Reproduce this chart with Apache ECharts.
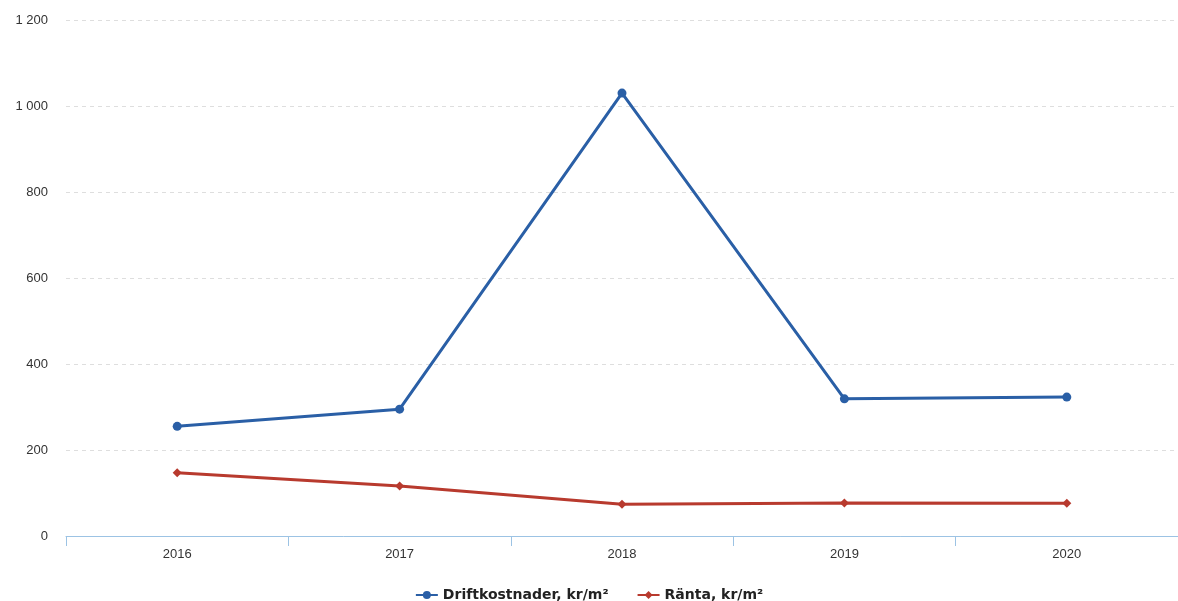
<!DOCTYPE html>
<html><head><meta charset="utf-8">
<script src="https://cdn.jsdelivr.net/npm/echarts@6/dist/echarts.min.js"></script>
<style>html,body{margin:0;padding:0;background:#fff}#c{width:1178px;height:601px}</style>
</head><body><div id="c"></div>
<script>
const categories = ['2016','2017','2018','2019','2020'];
const driftkostnader = [255, 295, 1030, 319, 323];
const ranta = [147, 116, 74, 77, 76];
const yTicks = [0, 200, 400, 600, 800, 1000, 1200];

const chart = echarts.init(document.getElementById('c'));
chart.setOption({
  animation: false,
  backgroundColor: '#fff',
  grid: {left: 66, right: 0, top: 20, bottom: 65, containLabel: false},
  legend: {
    top: 583, left: 'center', itemGap: 28, itemWidth: 22, itemHeight: 10,
    textStyle: {fontFamily: 'DejaVu Sans', fontWeight: 'bold', fontSize: 14, color: '#222'},
    data: ['Driftkostnader, kr/m²', 'Ränta, kr/m²']
  },
  xAxis: {
    type: 'category', data: categories, boundaryGap: true,
    axisLine: {lineStyle: {color: '#9cc3e4', width: 1}},
    axisTick: {show: true, length: 10, lineStyle: {color: '#9cc3e4'}},
    axisLabel: {fontFamily: 'Liberation Sans', fontSize: 13, color: '#333', margin: 12}
  },
  yAxis: {
    type: 'value', min: 0, max: 1200, interval: 200,
    axisLine: {show: false}, axisTick: {show: false},
    axisLabel: {fontFamily: 'Liberation Sans', fontSize: 13, color: '#333', margin: 18,
      formatter: v => String(v).replace(/\B(?=(\d{3})+(?!\d))/g, ' ')},
    splitLine: {lineStyle: {color: '#dedede', type: [4, 4], width: 1}}
  },
  series: [
    {name: 'Driftkostnader, kr/m²', type: 'line', data: driftkostnader,
     symbol: 'circle', symbolSize: 9, color: '#2a5fa6',
     lineStyle: {width: 3, color: '#2a5fa6'}, itemStyle: {color: '#2a5fa6'}},
    {name: 'Ränta, kr/m²', type: 'line', data: ranta,
     symbol: 'diamond', symbolSize: 9, color: '#b83a2e',
     lineStyle: {width: 3, color: '#b83a2e'}, itemStyle: {color: '#b83a2e'}}
  ]
});
</script></body></html>
